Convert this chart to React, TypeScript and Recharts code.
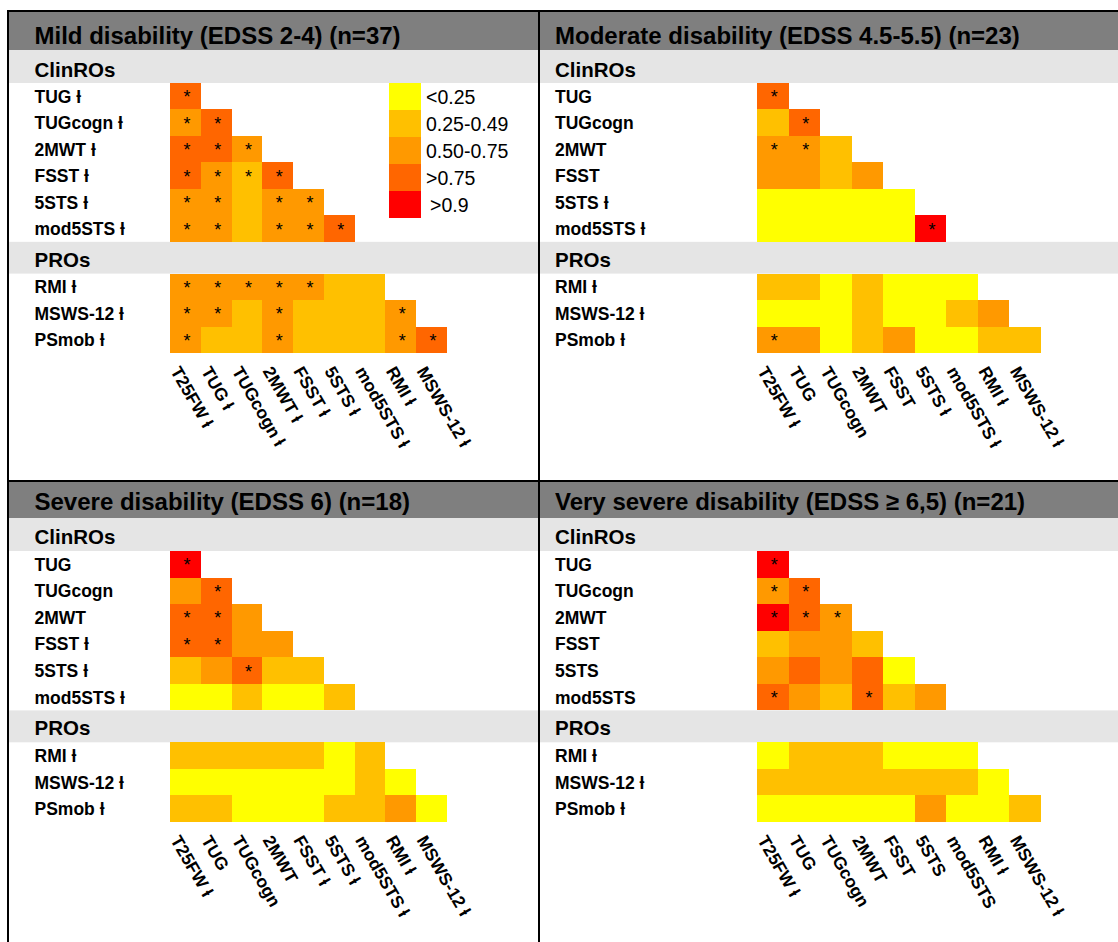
import React from "react";
import { ScatterChart, Scatter, XAxis, YAxis } from "recharts";

const FONT = "'Liberation Sans', Arial, Helvetica, sans-serif";
const B = "\u019A";

// ---------- legend ----------
const legendLabels = ["<0.25", "0.25-0.49", "0.50-0.75", ">0.75", ">0.9"];
const legendColors = ["#FFFF00", "#FFC000", "#FF9900", "#FF6600", "#FF0000"];

// ---------- shared row slots (ClinROs rows, PROs header gap, PROs rows) ----------
const rowPositions = [0.5, 1.5, 2.5, 3.5, 4.5, 5.5, 7.7, 8.7, 9.7];
const Y_MAX = 10.2;
const colTicks = [0, 1, 2, 3, 4, 5, 6, 7, 8];

// ---------- Mild ----------
const mildTitle = "Mild disability (EDSS 2-4) (n=37)";
const mildRowLabels = [`TUG ${B}`, `TUGcogn ${B}`, `2MWT ${B}`, `FSST ${B}`, `5STS ${B}`, `mod5STS ${B}`, `RMI ${B}`, `MSWS-12 ${B}`, `PSmob ${B}`];
const mildColLabels = [`T25FW ${B}`, `TUG ${B}`, `TUGcogn ${B}`, `2MWT ${B}`, `FSST ${B}`, `5STS ${B}`, `mod5STS ${B}`, `RMI ${B}`, `MSWS-12 ${B}`];
const mildValues = [
  [0.8],
  [0.65, 0.8],
  [0.8, 0.8, 0.6],
  [0.8, 0.6, 0.4, 0.8],
  [0.65, 0.6, 0.4, 0.6, 0.6],
  [0.65, 0.6, 0.4, 0.6, 0.6, 0.8],
  [0.6, 0.55, 0.55, 0.6, 0.55, 0.4, 0.4],
  [0.55, 0.55, 0.4, 0.55, 0.4, 0.35, 0.4, 0.6],
  [0.55, 0.45, 0.4, 0.55, 0.4, 0.35, 0.4, 0.6, 0.8],
];
const mildSignificant = [
  [1],
  [1, 1],
  [1, 1, 1],
  [1, 1, 1, 1],
  [1, 1, 0, 1, 1],
  [1, 1, 0, 1, 1, 1],
  [1, 1, 1, 1, 1, 0, 0],
  [1, 1, 0, 1, 0, 0, 0, 1],
  [1, 0, 0, 1, 0, 0, 0, 1, 1],
];

// ---------- Moderate ----------
const moderateTitle = "Moderate disability (EDSS 4.5-5.5) (n=23)";
const moderateRowLabels = ["TUG", "TUGcogn", "2MWT", "FSST", `5STS ${B}`, `mod5STS ${B}`, `RMI ${B}`, `MSWS-12 ${B}`, `PSmob ${B}`];
const moderateColLabels = [`T25FW ${B}`, "TUG", "TUGcogn", "2MWT", "FSST", `5STS ${B}`, `mod5STS ${B}`, `RMI ${B}`, `MSWS-12 ${B}`];
const moderateValues = [
  [0.8],
  [0.45, 0.78],
  [0.6, 0.6, 0.4],
  [0.55, 0.55, 0.4, 0.55],
  [0.1, 0.05, 0.15, 0.1, 0.2],
  [0.1, 0.05, 0.15, 0.1, 0.2, 0.95],
  [0.35, 0.3, 0.2, 0.35, 0.15, 0.1, 0.1],
  [0.2, 0.15, 0.1, 0.3, 0.2, 0.2, 0.3, 0.55],
  [0.55, 0.5, 0.2, 0.4, 0.5, 0.15, 0.1, 0.35, 0.4],
];
const moderateSignificant = [
  [1],
  [0, 1],
  [1, 1, 0],
  [0, 0, 0, 0],
  [0, 0, 0, 0, 0],
  [0, 0, 0, 0, 0, 1],
  [0, 0, 0, 0, 0, 0, 0],
  [0, 0, 0, 0, 0, 0, 0, 0],
  [1, 0, 0, 0, 0, 0, 0, 0, 0],
];

// ---------- Severe ----------
const severeTitle = "Severe disability (EDSS 6) (n=18)";
const severeRowLabels = ["TUG", "TUGcogn", "2MWT", `FSST ${B}`, `5STS ${B}`, `mod5STS ${B}`, `RMI ${B}`, `MSWS-12 ${B}`, `PSmob ${B}`];
const severeColLabels = [`T25FW ${B}`, "TUG", "TUGcogn", "2MWT", `FSST ${B}`, `5STS ${B}`, `mod5STS ${B}`, `RMI ${B}`, `MSWS-12 ${B}`];
const severeValues = [
  [0.92],
  [0.7, 0.8],
  [0.82, 0.8, 0.65],
  [0.8, 0.78, 0.6, 0.6],
  [0.45, 0.55, 0.78, 0.4, 0.35],
  [0.2, 0.15, 0.3, 0.2, 0.1, 0.3],
  [0.4, 0.4, 0.35, 0.35, 0.3, 0.2, 0.3],
  [0.2, 0.15, 0.15, 0.1, 0.2, 0.15, 0.3, 0.2],
  [0.35, 0.3, 0.2, 0.15, 0.2, 0.3, 0.35, 0.55, 0.2],
];
const severeSignificant = [
  [1],
  [0, 1],
  [1, 1, 0],
  [1, 1, 0, 0],
  [0, 0, 1, 0, 0],
  [0, 0, 0, 0, 0, 0],
  [0, 0, 0, 0, 0, 0, 0],
  [0, 0, 0, 0, 0, 0, 0, 0],
  [0, 0, 0, 0, 0, 0, 0, 0, 0],
];

// ---------- Very severe ----------
const verySevereTitle = "Very severe disability (EDSS \u2265 6,5) (n=21)";
const verySevereRowLabels = ["TUG", "TUGcogn", "2MWT", "FSST", "5STS", "mod5STS", `RMI ${B}`, `MSWS-12 ${B}`, `PSmob ${B}`];
const verySevereColLabels = [`T25FW ${B}`, "TUG", "TUGcogn", "2MWT", "FSST", "5STS", "mod5STS", `RMI ${B}`, `MSWS-12 ${B}`];
const verySevereValues = [
  [0.93],
  [0.7, 0.85],
  [0.92, 0.85, 0.7],
  [0.45, 0.55, 0.55, 0.45],
  [0.6, 0.78, 0.6, 0.78, 0.15],
  [0.8, 0.6, 0.45, 0.8, 0.4, 0.55],
  [0.2, 0.35, 0.3, 0.3, 0.2, 0.15, 0.2],
  [0.4, 0.35, 0.35, 0.4, 0.35, 0.3, 0.3, 0.2],
  [0.2, 0.15, 0.1, 0.2, 0.15, 0.55, 0.2, 0.2, 0.4],
];
const verySevereSignificant = [
  [1],
  [1, 1],
  [1, 1, 1],
  [0, 0, 0, 0],
  [0, 0, 0, 0, 0],
  [1, 0, 0, 1, 0, 0],
  [0, 0, 0, 0, 0, 0, 0],
  [0, 0, 0, 0, 0, 0, 0, 0],
  [0, 0, 0, 0, 0, 0, 0, 0, 0],
];

function colorFor(v: number) {
  if (v > 0.9) return legendColors[4];
  if (v > 0.75) return legendColors[3];
  if (v >= 0.5) return legendColors[2];
  if (v >= 0.25) return legendColors[1];
  return legendColors[0];
}

// ---------- layout ----------
const LEFT = { x0: 9, x1: 538, gridX0: 170, gridX1: 447, textX: 34.5 };
const RIGHT = { x0: 540, x1: 1118, gridX0: 757, gridX1: 1041, textX: 555 };
const TOP = { titleTop: 12, clinTop: 50, gridTop: 83, gridBottom: 353, bottom: 480, titleBase: 44, clinBase: 77 };
const BOTTOM = { titleTop: 482, clinTop: 518, gridTop: 551, gridBottom: 822, bottom: 942, titleBase: 510, clinBase: 544 };

const panels = [
  { h: LEFT, v: TOP, title: mildTitle, rows: mildRowLabels, cols: mildColLabels, values: mildValues, sig: mildSignificant },
  { h: RIGHT, v: TOP, title: moderateTitle, rows: moderateRowLabels, cols: moderateColLabels, values: moderateValues, sig: moderateSignificant },
  { h: LEFT, v: BOTTOM, title: severeTitle, rows: severeRowLabels, cols: severeColLabels, values: severeValues, sig: severeSignificant },
  { h: RIGHT, v: BOTTOM, title: verySevereTitle, rows: verySevereRowLabels, cols: verySevereColLabels, values: verySevereValues, sig: verySevereSignificant },
];

function buildPoints(values: number[][], sig: number[][]) {
  const pts: any[] = [];
  values.forEach((row, r) => {
    row.forEach((v, c) => {
      pts.push({ x: c + 0.5, y: rowPositions[r], v, s: sig[r][c] });
    });
  });
  return pts;
}

function makeCellShape(cw: number, ch: number) {
  return (props: any) => {
    const { cx, cy, payload } = props;
    return (
      <g>
        <rect
          x={cx - cw / 2}
          y={cy - ch / 2}
          width={cw}
          height={ch}
          fill={colorFor(payload.v)}
          shapeRendering="crispEdges"
        />
        {payload.s ? (
          <text x={cx + 1.5} y={cy + 7} textAnchor="middle" fontSize={18} fontFamily={FONT} fill="#000">
            *
          </text>
        ) : null}
      </g>
    );
  };
}

function HeatPanel({ p }: { p: any }) {
  const { h, v } = p;
  const W = h.x1 - h.x0;
  const H = v.bottom - v.gridTop;
  const gridW = h.gridX1 - h.gridX0;
  const gridH = v.gridBottom - v.gridTop;
  const cw = gridW / 9;
  const ch = gridH / Y_MAX;
  const labelX = h.textX - h.x0;
  const points = buildPoints(p.values, p.sig);

  const rowTick = (props: any) => {
    const idx = rowPositions.indexOf(props.payload.value);
    return (
      <text x={labelX} y={props.y + 6.5} textAnchor="start" fontSize={17.5} fontWeight="bold" fontFamily={FONT} fill="#000">
        {p.rows[idx]}
      </text>
    );
  };
  const colTick = (props: any) => {
    const idx = props.payload.value;
    const x = props.x;
    const y = props.y + 18;
    return (
      <text x={x} y={y} transform={`rotate(60 ${x} ${y})`} textAnchor="start" fontSize={17.5} fontWeight="bold" fontFamily={FONT} fill="#000">
        {p.cols[idx]}
      </text>
    );
  };

  return (
    <div style={{ position: "absolute", left: h.x0, top: v.gridTop, width: W, height: H }}>
      <ScatterChart width={W} height={H} margin={{ top: 0, right: h.x1 - h.gridX1, bottom: 0, left: 0 }}>
        <XAxis
          type="number"
          dataKey="x"
          domain={[0, 9]}
          ticks={colTicks}
          interval={0}
          tickLine={false}
          axisLine={false}
          tickSize={0}
          tickMargin={0}
          height={H - gridH}
          tick={colTick}
          allowDataOverflow
        />
        <YAxis
          type="number"
          dataKey="y"
          domain={[0, Y_MAX]}
          reversed
          ticks={rowPositions}
          interval={0}
          tickLine={false}
          axisLine={false}
          width={h.gridX0 - h.x0}
          tick={rowTick}
          allowDataOverflow
        />
        <Scatter data={points} shape={makeCellShape(cw, ch)} isAnimationActive={false} />
      </ScatterChart>
    </div>
  );
}

function Background() {
  return (
    <svg width={1118} height={942} style={{ position: "absolute", left: 0, top: 0 }} fontFamily={FONT}>
      {panels.map((p, i) => {
        const { h, v } = p;
        const u = (v.gridBottom - v.gridTop) / Y_MAX;
        const proTop = v.gridTop + 6 * u;
        const proBottom = v.gridTop + 7.2 * u;
        return (
          <g key={i}>
            <rect x={h.x0} y={v.titleTop} width={h.x1 - h.x0} height={v.clinTop - v.titleTop} fill="#7F7F7F" />
            <rect x={h.x0} y={v.clinTop} width={h.x1 - h.x0} height={v.gridTop - v.clinTop} fill="#E5E5E5" />
            <rect x={h.x0} y={proTop} width={h.x1 - h.x0} height={proBottom - proTop} fill="#E5E5E5" />
            <text x={h.textX} y={v.titleBase} fontSize={24} fontWeight="bold" fill="#000">
              {p.title}
            </text>
            <text x={h.textX} y={v.clinBase} fontSize={20.5} fontWeight="bold" fill="#000">
              ClinROs
            </text>
            <text x={h.textX} y={proBottom - 7} fontSize={20.5} fontWeight="bold" fill="#000">
              PROs
            </text>
          </g>
        );
      })}
      {/* frame lines */}
      <rect x={7} y={10} width={1111} height={2} fill="#000" />
      <rect x={7} y={10} width={2} height={932} fill="#000" />
      <rect x={538} y={10} width={2} height={932} fill="#000" />
      <rect x={7} y={480} width={1111} height={2} fill="#000" />
      {/* legend */}
      {legendLabels.map((l, i) => (
        <g key={l}>
          <rect x={389} y={83 + i * 27} width={32} height={27} fill={legendColors[i]} shapeRendering="crispEdges" />
          <text x={i === 4 ? 430 : 426} y={83 + i * 27 + 20.5} fontSize={19.5} fill="#000">
            {l}
          </text>
        </g>
      ))}
    </svg>
  );
}

export default function App() {
  return (
    <div style={{ position: "absolute", left: 0, top: 0, width: 1118, height: 942, background: "#fff", overflow: "hidden" }}>
      <Background />
      {panels.map((p, i) => (
        <HeatPanel key={i} p={p} />
      ))}
    </div>
  );
}
